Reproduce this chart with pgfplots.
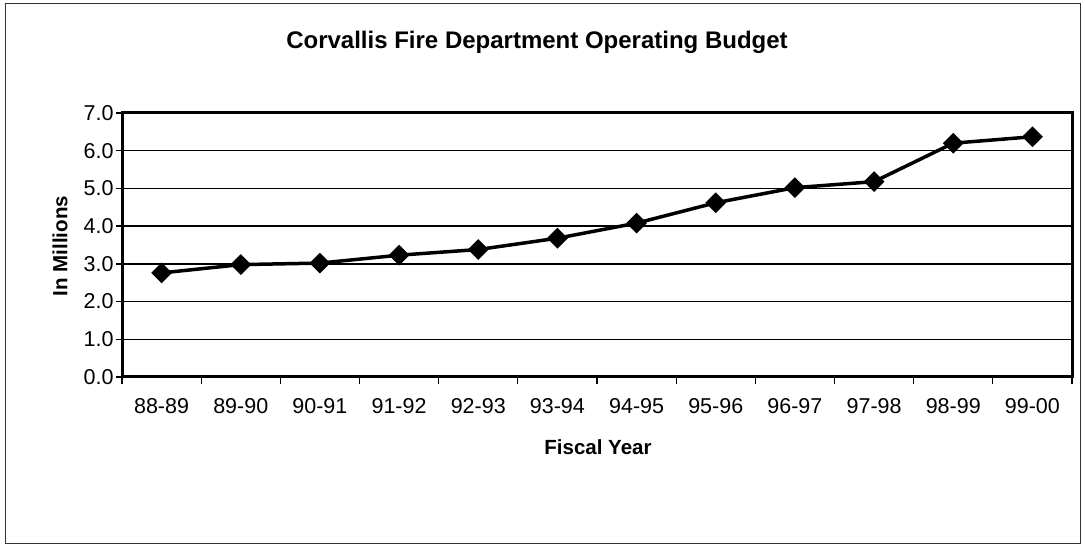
\documentclass[border=0pt]{standalone}
\usepackage{fontspec}
\setmainfont{Liberation Sans}
\usepackage{pgfplots}
\pgfplotsset{compat=1.18}
\begin{document}
\begin{tikzpicture}[x=1pt,y=1pt]
\path[use as bounding box] (0,0) rectangle (1085,548);
\draw[line width=1pt, black!80] (5,4) rectangle (1080,544);
\begin{axis}[
  at={(122pt,171pt)}, anchor=south west,
  scale only axis, width=950pt, height=264pt,
  xmin=0.5, xmax=12.5, ymin=0, ymax=7,
  xtick={1,...,12},
  xticklabels={88-89,89-90,90-91,91-92,92-93,93-94,94-95,95-96,96-97,97-98,98-99,99-00},
  major x tick style={draw=none},
  minor xtick={0.5,1.5,...,12.5},
  minor tick length=7pt,
  major tick length=6pt,
  tick align=outside,
  tick pos=left,
  tick style={black, line width=1.3pt},
  ytick={0,1,...,7},
  yticklabel style={/pgf/number format/fixed, /pgf/number format/fixed zerofill, /pgf/number format/precision=1, xshift=1pt},
  /pgf/number format/assume math mode=true,
  ymajorgrids,
  grid style={black, line width=1.4pt},
  axis line style={black, line width=3pt},
  ticklabel style={font=\fontsize{21.5}{24}\selectfont},
  xticklabel style={yshift=-12pt},
  clip=false,
]
\addplot[black, line width=3.5pt, mark=square*, mark size=5.6pt, mark options={rotate=45, solid}]
coordinates {
(1,2.76) (2,2.98) (3,3.02) (4,3.23) (5,3.38) (6,3.68)
(7,4.08) (8,4.62) (9,5.02) (10,5.18) (11,6.20) (12,6.37)
};
\end{axis}
\node[font=\bfseries\fontsize{24}{27}\selectfont] at (537,506) {Corvallis Fire Department Operating Budget};
\node[font=\bfseries\fontsize{20.5}{24}\selectfont, rotate=90] at (60,302) {In Millions};
\node[font=\bfseries\fontsize{20.5}{24}\selectfont] at (598,101) {Fiscal Year};
\end{tikzpicture}
\end{document}
